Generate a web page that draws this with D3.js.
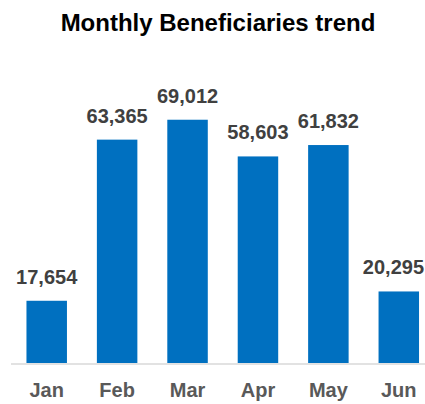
<!DOCTYPE html>
<meta charset="utf-8" />
<title>Monthly Beneficiaries trend</title>
<style>
  body { margin: 0; background: #fff; font-family: "Liberation Sans", Arial, sans-serif; }
  svg { display: block; }
  .title { font-size: 24px; font-weight: bold; fill: #000; }
  .value { font-size: 20px; font-weight: bold; fill: #404040; }
  .tick-label { font-size: 20px; font-weight: bold; fill: #595959; }
</style>
<body>
  <svg></svg>
  <script src="https://d3js.org/d3.v7.min.js"></script>
  <script>
    const months = ["Jan", "Feb", "Mar", "Apr", "May", "Jun"];
    const beneficiaries = [17654, 63365, 69012, 58603, 61832, 20295];

    const width = 425, height = 404;
    const svg = d3.select("svg").attr("width", width).attr("height", height);

    const data = months.map((m, i) => ({ month: m, value: beneficiaries[i] }));

    const x = d3.scaleBand()
      .domain(months)
      .range([11.5, 434])
      .paddingInner(0.425)
      .paddingOuter(0.2125);

    const y = d3.scaleLinear()
      .domain([0, 80000])
      .range([363, 81]);

    svg.append("text")
      .attr("class", "title")
      .attr("x", 218)
      .attr("y", 31)
      .attr("text-anchor", "middle")
      .text("Monthly Beneficiaries trend");

    svg.append("g")
      .selectAll("rect")
      .data(data)
      .join("rect")
      .attr("x", d => x(d.month))
      .attr("y", d => y(d.value))
      .attr("width", x.bandwidth())
      .attr("height", d => y(0) - y(d.value))
      .attr("fill", "#0070c0");

    // axis baseline
    svg.append("line")
      .attr("x1", 11).attr("x2", width)
      .attr("y1", y(0) + 1).attr("y2", y(0) + 1)
      .attr("stroke", "#d9d9d9")
      .attr("stroke-width", 1.5);

    const labels = svg.append("g")
      .selectAll("text")
      .data(data)
      .join("text")
      .attr("class", "value")
      .attr("x", d => x(d.month) + x.bandwidth() / 2)
      .attr("y", d => y(d.value) - 17)
      .attr("text-anchor", "middle")
      .text(d => d3.format(",")(d.value));

    // keep the last label inside the window
    labels.each(function () {
      const b = this.getBBox();
      if (b.x + b.width > width - 1) {
        d3.select(this).attr("x", +this.getAttribute("x") - (b.x + b.width - width + 1));
      }
    });

    svg.append("g")
      .selectAll("text")
      .data(months)
      .join("text")
      .attr("class", "tick-label")
      .attr("x", d => x(d) + x.bandwidth() / 2)
      .attr("y", 397)
      .attr("text-anchor", "middle")
      .text(d => d);
  </script>
</body>
